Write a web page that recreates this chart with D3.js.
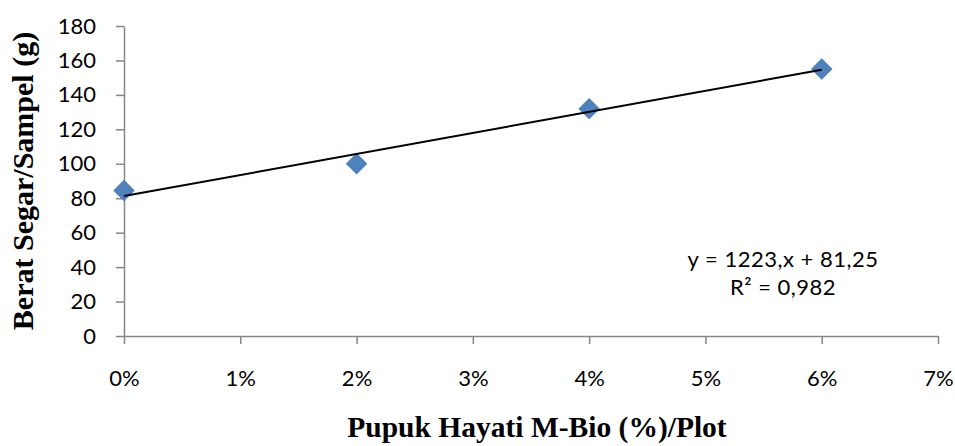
<!DOCTYPE html>
<html>
<head>
<meta charset="utf-8">
<script src="https://cdn.jsdelivr.net/npm/d3@7"></script>
<style>
  html, body { margin: 0; padding: 0; background: #fff; }
  svg { display: block; }
</style>
</head>
<body>
<svg id="chart" width="955" height="446"></svg>
<script>
// Dose of M-Bio biofertilizer per plot (fraction) and fresh weight per sample (g)
const doses = [0, 0.02, 0.04, 0.06];
const weights = [84.5, 100, 132, 155];

// Linear trendline as reported by the fit
const slope = 1223;
const intercept = 81.25;
const equationLines = ["y = 1223,x + 81,25", "R\u00B2 = 0,982"];

const xTicks = [0, 0.01, 0.02, 0.03, 0.04, 0.05, 0.06, 0.07];
const yTicks = [0, 20, 40, 60, 80, 100, 120, 140, 160, 180];

const xTitle = "Pupuk Hayati M-Bio (%)/Plot";
const yTitle = "Berat Segar/Sampel (g)";

const svg = d3.select("#chart");
const axisColor = "#868686";
const labelFont = "Lato, 'Open Sans', sans-serif";
const titleFont = "'Liberation Serif', 'Times New Roman', serif";

const x = d3.scaleLinear().domain([0, 0.07]).range([124, 938]);
const y = d3.scaleLinear().domain([0, 180]).range([336, 26]);

// Y axis
const yAxis = svg.append("g")
  .attr("transform", `translate(${x(0)},0)`)
  .call(d3.axisLeft(y).tickValues(yTicks).tickSize(8).tickSizeOuter(0).tickPadding(20)
    .tickFormat(d3.format("d")));
yAxis.select(".domain").attr("stroke", axisColor).attr("stroke-width", 1.5);
yAxis.selectAll(".tick line").attr("stroke", axisColor).attr("stroke-width", 1.5);
yAxis.selectAll(".tick text")
  .attr("fill", "#000")
  .style("font-family", labelFont)
  .style("font-size", "22px");

// X axis
const xAxis = svg.append("g")
  .attr("transform", `translate(0,${y(0)})`)
  .call(d3.axisBottom(x).tickValues(xTicks).tickSize(8).tickSizeOuter(0).tickPadding(26)
    .tickFormat(d3.format(".0%")));
xAxis.select(".domain").attr("stroke", axisColor).attr("stroke-width", 1.5);
xAxis.selectAll(".tick line").attr("stroke", axisColor).attr("stroke-width", 1.5);
xAxis.selectAll(".tick text")
  .attr("fill", "#000")
  .style("font-family", labelFont)
  .style("font-size", "22px");

// Data markers (diamonds)
const diamond = d3.symbol().type(d3.symbolSquare).size(200);
svg.append("g").selectAll("path")
  .data(doses.map((d, i) => ({ dose: d, weight: weights[i] })))
  .join("path")
  .attr("d", diamond)
  .attr("transform", d => `translate(${x(d.dose)},${y(d.weight)}) rotate(45)`)
  .attr("fill", "#4F81BD")
  .attr("stroke", "#4A7EBB")
  .attr("stroke-width", 1);

// Trendline over the sampled dose range
const trendX = d3.extent(doses);
svg.append("line")
  .attr("x1", x(trendX[0])).attr("y1", y(intercept + slope * trendX[0]))
  .attr("x2", x(trendX[1])).attr("y2", y(intercept + slope * trendX[1]))
  .attr("stroke", "#000")
  .attr("stroke-width", 2);

// Equation and R² annotation
svg.append("g").selectAll("text")
  .data(equationLines)
  .join("text")
  .attr("x", 783)
  .attr("y", (d, i) => 267 + i * 28)
  .attr("text-anchor", "middle")
  .style("font-family", labelFont)
  .style("font-size", "22px")
  .style("letter-spacing", "0.5px")
  .attr("fill", "#000")
  .text(d => d);

// Axis titles
svg.append("text")
  .attr("x", 537)
  .attr("y", 437)
  .attr("text-anchor", "middle")
  .style("font-family", titleFont)
  .style("font-weight", "bold")
  .style("font-size", "29.5px")
  .attr("fill", "#000")
  .text(xTitle);

svg.append("text")
  .attr("transform", "translate(33,181) rotate(-90)")
  .attr("text-anchor", "middle")
  .style("font-family", titleFont)
  .style("font-weight", "bold")
  .style("font-size", "30px")
  .attr("fill", "#000")
  .text(yTitle);
</script>
</body>
</html>
